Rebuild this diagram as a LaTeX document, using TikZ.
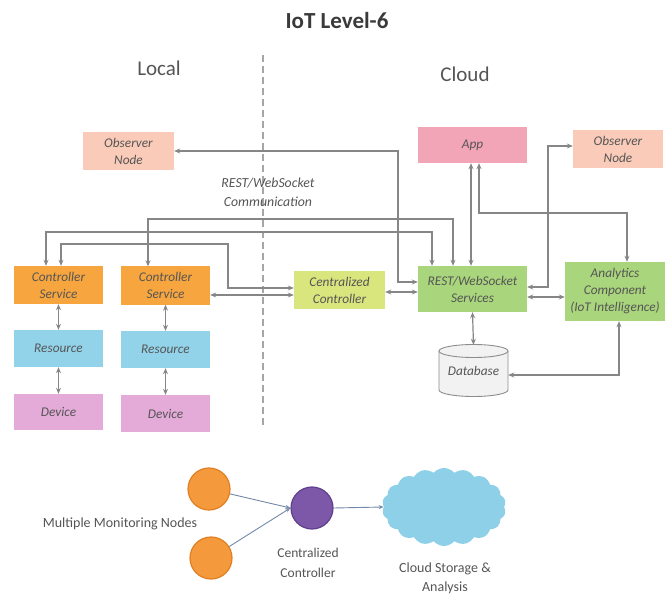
\documentclass[tikz,border=0pt]{standalone}
\usepackage{fontspec}
\setmainfont{Carlito}
\usetikzlibrary{arrows.meta,shapes.symbols}

\definecolor{obsfill}{HTML}{F9CBB8}
\definecolor{appfill}{HTML}{F3A5B8}
\definecolor{csfill}{HTML}{F7A53E}
\definecolor{ccfill}{HTML}{D9E67E}
\definecolor{svcfill}{HTML}{A9D57C}
\definecolor{resfill}{HTML}{93D3EA}
\definecolor{devfill}{HTML}{E4AAD8}
\definecolor{dbfill}{HTML}{F2F2F2}
\definecolor{dbline}{HTML}{8C8C8C}
\definecolor{linkgray}{HTML}{868686}
\definecolor{boxtext}{HTML}{555555}
\definecolor{labeltext}{HTML}{555555}
\definecolor{titletext}{HTML}{3A3A3A}
\definecolor{monfill}{HTML}{F59A3C}
\definecolor{monline}{HTML}{E07F22}
\definecolor{cenfill}{HTML}{7D57A8}
\definecolor{cenline}{HTML}{5E3F8A}
\definecolor{cloudfill}{HTML}{8DD0E7}
\definecolor{flowline}{HTML}{7289A8}

\begin{document}
\begin{tikzpicture}[x=1pt,y=-1pt,
  box/.style={minimum width=89pt, minimum height=38pt, inner sep=0pt,
    align=center, text=boxtext,
    font=\fontsize{13.3}{17}\selectfont\itshape},
  link/.style={draw=linkgray, line width=1.2pt,
    {Stealth[length=6pt,width=5pt]}-{Stealth[length=6pt,width=5pt]}},
  flow/.style={draw=flowline, line width=0.9pt,
    -{Stealth[length=5pt,width=4pt]}},
  divider/.style={draw=gray!70, line width=1.3pt, dash pattern=on 7pt off 4pt},
  lbl/.style={text=labeltext, font=\fontsize{14}{19}\selectfont, align=center},
  node/.style={circle, minimum size=42pt, inner sep=0pt, line width=1.2pt}
]
\useasboundingbox (0,0) rectangle (667,596);

% headings
\node[text=titletext, font=\fontsize{23}{26}\selectfont\bfseries] (title) at (337,21) {IoT Level-6};
\node[text=labeltext, font=\fontsize{21}{24}\selectfont] (local) at (159,68) {Local};
\node[text=labeltext, font=\fontsize{21}{24}\selectfont] (cloudhead) at (465,74) {Cloud};

% local / cloud divider
\coordinate (divtop) at (263,55);
\coordinate (divbot) at (263,425);
\draw[divider] (divtop) -- (divbot);

\node[text=boxtext, align=center, font=\fontsize{13.8}{19}\selectfont\itshape] (comm) at (268,192) {REST/WebSocket\\Communication};

% cloud side
\node[box, fill=obsfill, minimum width=91pt] (obsL) at (128.5,151) {Observer\\Node};
\node[box, fill=appfill, minimum width=109pt, minimum height=36pt] (app) at (472.5,145) {App};
\node[box, fill=obsfill, minimum width=90pt] (obsR) at (618,149) {Observer\\Node};
\node[box, fill=ccfill, minimum width=91pt] (cc) at (339.5,290) {Centralized\\Controller};
\node[box, fill=svcfill, minimum width=109pt, minimum height=46pt] (rest) at (472.5,289) {REST/WebSocket\\Services};
\node[box, fill=svcfill, minimum width=100pt, minimum height=59pt] (ana) at (615,291.5) {Analytics\\Component\\(IoT Intelligence)};

% local side
\node[box, fill=csfill] (cs1) at (58.5,285) {Controller\\Service};
\node[box, fill=csfill] (cs2) at (165.5,285.5) {Controller\\Service};
\node[box, fill=resfill, minimum height=37pt] (res1) at (58.5,348.5) {Resource};
\node[box, fill=resfill, minimum height=37pt] (res2) at (165.5,349.5) {Resource};
\node[box, fill=devfill, minimum height=36pt] (dev1) at (58.5,412) {Device};
\node[box, fill=devfill, minimum height=37pt] (dev2) at (165.5,413.5) {Device};

% database cylinder
\fill[dbfill] (439,351) -- (439,390) arc[start angle=180, end angle=0, x radius=34.5, y radius=6.5]
  -- (508,351) arc[start angle=0, end angle=180, x radius=34.5, y radius=6.5] -- cycle;
\draw[dbline, line width=0.9pt] (439,351) -- (439,390) arc[start angle=180, end angle=0, x radius=34.5, y radius=6.5] -- (508,351);
\draw[dbline, fill=dbfill, line width=0.9pt] (473.5,351) ellipse [x radius=34.5, y radius=6.5];
\node[box, minimum width=69pt, minimum height=51pt] (db) at (473.5,370.5) {Database};

% connectors
\draw[link] (obsL.east) -| (398,282) -- (rest.west |- 0,282);
\draw[link] (cs2.north -| 148,0) -- (148,219) -| (rest.north -| 453,0);
\draw[link] (cs1.north -| 46,0) -- (46,232) -| (rest.north -| 432,0);
\draw[link] (cs1.north -| 61,0) -- (61,244) -| (228,288) -- (cc.west |- 0,288);
\draw[link] (cs2.east |- 0,295) -- (cc.west |- 0,295);
\draw[link] (cc.east |- 0,292) -- (rest.west |- 0,292);
\draw[link] (app.south -| 471,0) -- (rest.north -| 471,0);
\draw[link] (app.south -| 479,0) -- (479,213) -| (ana.north -| 627,0);
\draw[link] (rest.east |- 0,287) -| (548,146) -- (obsR.west |- 0,146);
\draw[link] (rest.east |- 0,297) -- (ana.west |- 0,297);
\draw[link] (rest.south) -- (db.north);
\draw[link] (db.east |- 0,375) -| (ana.south -| 619,0);
\draw[link] (cs1.south) -- (res1.north);
\draw[link] (res1.south) -- (dev1.north);
\draw[link] (cs2.south) -- (res2.north);
\draw[link] (res2.south) -- (dev2.north);

% monitoring summary
\node[node, fill=monfill, draw=monline] (mon1) at (209,489) {};
\node[node, fill=monfill, draw=monline] (mon2) at (211,558) {};
\node[node, fill=cenfill, draw=cenline] (cen) at (312,508) {};
\node[cloud, cloud puffs=18, cloud puff arc=100, aspect=1.6, fill=cloudfill,
  minimum width=124pt, minimum height=78pt, inner sep=0pt] (store) at (444,507) {};

\draw[flow] (mon1) -- (cen.west);
\draw[flow] (mon2) -- (cen.west);
\draw[flow] (cen.east) -- (store.west);

\node[lbl] (monlbl) at (120,524) {Multiple Monitoring Nodes};
\node[lbl, font=\fontsize{13.5}{20}\selectfont] (cenlbl) at (308,563) {Centralized\\Controller};
\node[lbl] (storelbl) at (445,578) {Cloud Storage \&\\Analysis};
\end{tikzpicture}
\end{document}
